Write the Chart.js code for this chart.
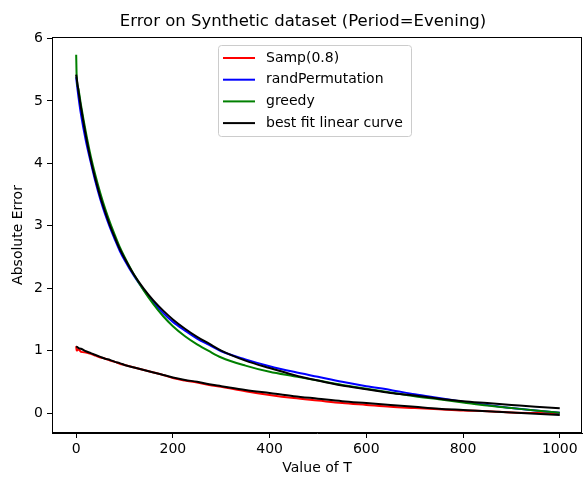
<!DOCTYPE html>
<html>
<head>
<meta charset="utf-8">
<script src="https://cdn.jsdelivr.net/npm/chart.js@4"></script>
<style>
  html, body { margin: 0; padding: 0; background: #fff; }
  #wrap { width: 583px; height: 477px; }
</style>
</head>
<body>
<div id="wrap"><canvas id="c" width="583" height="477"></canvas></div>
<script>
const titleText = "Error on Synthetic dataset (Period=Evening)";
const xTitle = "Value of T";
const yTitle = "Absolute Error";
const xTickValues = [0, 200, 400, 600, 800, 1000];
const yTickValues = [0, 1, 2, 3, 4, 5, 6];

const T = [0,1,5,10,20,30,40,50,60,70,80,90,100,120,140,160,180,200,225,250,275,300,350,400,450,500,550,600,650,700,750,800,850,900,950,1000];

const sampValues = [1.07,1.00,1.02,0.98,0.97,0.95,0.92,0.89,0.87,0.84,0.82,0.79,0.77,0.73,0.69,0.65,0.61,0.56,0.52,0.49,0.45,0.42,0.35,0.29,0.24,0.20,0.16,0.13,0.10,0.08,0.06,0.04,0.03,0.01,0.00,-0.005];
const randPermValues = [5.38,5.30,5.05,4.78,4.36,4.02,3.70,3.42,3.18,2.97,2.78,2.60,2.45,2.19,1.97,1.77,1.60,1.46,1.32,1.19,1.09,0.99,0.86,0.75,0.66,0.58,0.50,0.43,0.37,0.30,0.24,0.18,0.13,0.08,0.04,0.005];
const greedyValues = [5.74,5.40,5.18,4.93,4.50,4.12,3.80,3.52,3.27,3.05,2.85,2.66,2.50,2.21,1.96,1.74,1.55,1.39,1.23,1.10,0.99,0.89,0.76,0.66,0.59,0.52,0.45,0.39,0.33,0.27,0.22,0.17,0.12,0.08,0.04,0.005];
const fitUpperValues = [5.42,5.37,5.14,4.89,4.44,4.06,3.74,3.46,3.22,3.00,2.81,2.63,2.48,2.21,1.99,1.80,1.64,1.50,1.35,1.22,1.11,1.00,0.84,0.72,0.61,0.52,0.44,0.38,0.32,0.28,0.23,0.19,0.16,0.13,0.10,0.075];
const fitLowerValues = [1.06,1.06,1.04,1.03,0.99,0.96,0.93,0.90,0.87,0.85,0.82,0.80,0.77,0.73,0.69,0.65,0.61,0.57,0.53,0.50,0.46,0.43,0.37,0.32,0.27,0.23,0.19,0.16,0.13,0.10,0.07,0.05,0.03,0.01,-0.01,-0.03];

const legendLabels = ["Samp(0.8)", "randPermutation", "greedy", "best fit linear curve"];
const legendColors = ["#ff0000", "#0000ff", "#008000", "#000000"];

const pts = vals => T.map((t, i) => ({ x: t, y: vals[i] }));
const FONT = "'DejaVu Sans', sans-serif";

function ds(label, vals, color, order) {
  return {
    label, data: pts(vals), borderColor: color, backgroundColor: color,
    borderWidth: 2, pointRadius: 0, fill: false, order,
    cubicInterpolationMode: 'monotone'
  };
}

const framePlugin = {
  id: 'frame',
  afterDatasetsDraw(chart) {
    const { ctx, chartArea: a } = chart;
    ctx.save();
    ctx.strokeStyle = '#000';
    ctx.lineWidth = 1;
    ctx.strokeRect(Math.round(a.left) + 0.5, Math.round(a.top) + 0.5, Math.round(a.right - a.left) - 1, Math.round(a.bottom - a.top) - 1);
    ctx.restore();
  }
};

const titlePlugin = {
  id: 'mplTitle',
  afterDraw(chart) {
    const { ctx } = chart;
    ctx.save();
    ctx.font = "16.5px " + FONT;
    ctx.fillStyle = '#000';
    ctx.textAlign = 'center';
    ctx.textBaseline = 'middle';
    ctx.fillText(titleText, 303, 22);
    ctx.restore();
  }
};

const legendPlugin = {
  id: 'mplLegend',
  afterDraw(chart) {
    const { ctx } = chart;
    const x0 = 218, y0 = 45, w = 193, h = 91;
    ctx.save();
    ctx.fillStyle = 'rgba(255,255,255,0.8)';
    ctx.strokeStyle = '#cccccc';
    ctx.lineWidth = 1;
    ctx.beginPath();
    ctx.roundRect(x0 + 0.5, y0 + 0.5, w, h, 3);
    ctx.fill();
    ctx.stroke();
    ctx.font = "14px " + FONT;
    ctx.textBaseline = 'middle';
    ctx.textAlign = 'left';
    legendLabels.forEach((lab, i) => {
      const y = 58 + i * 21.7;
      ctx.strokeStyle = legendColors[i];
      ctx.lineWidth = 2;
      ctx.beginPath();
      ctx.moveTo(223, y);
      ctx.lineTo(255, y);
      ctx.stroke();
      ctx.fillStyle = '#000';
      ctx.fillText(lab, 266, y);
    });
    ctx.restore();
  }
};

new Chart(document.getElementById('c'), {
  type: 'line',
  data: {
    datasets: [
      ds(legendLabels[0], sampValues, legendColors[0], 4),
      ds(legendLabels[1], randPermValues, legendColors[1], 3),
      ds(legendLabels[2], greedyValues, legendColors[2], 2),
      ds(legendLabels[3], fitUpperValues, legendColors[3], 1),
      ds(legendLabels[3], fitLowerValues, legendColors[3], 0)
    ]
  },
  options: {
    responsive: false,
    animation: false,
    devicePixelRatio: 1,
    layout: { padding: { left: 0, right: 1, top: 37, bottom: 0 } },
    plugins: {
      legend: { display: false },
      tooltip: { enabled: false },
      title: { display: false }
    },
    scales: {
      x: {
        type: 'linear', min: -50, max: 1046,
        afterBuildTicks: s => { s.ticks = xTickValues.map(v => ({ value: v })); },
        afterFit: s => { s.height = 44; },
        border: { display: true, color: '#000', width: 1 },
        grid: { display: true, drawOnChartArea: false, drawTicks: true, tickLength: 5, color: '#000' },
        ticks: { color: '#000', font: { family: FONT, size: 14 }, padding: 3, maxRotation: 0, callback: v => String(v) },
        title: { display: true, text: xTitle, color: '#000', font: { family: FONT, size: 14 }, padding: { top: 2, bottom: 0 } }
      },
      y: {
        type: 'linear', min: -0.32, max: 6.024,
        afterBuildTicks: s => { s.ticks = yTickValues.map(v => ({ value: v })); },
        afterFit: s => { s.width = 52; },
        border: { display: true, color: '#000', width: 1 },
        grid: { display: true, drawOnChartArea: false, drawTicks: true, tickLength: 5, color: '#000' },
        ticks: { color: '#000', font: { family: FONT, size: 14 }, padding: 4, callback: v => String(v) },
        title: { display: true, text: yTitle, color: '#000', font: { family: FONT, size: 14 }, padding: { top: 10, bottom: 0 } }
      }
    }
  },
  plugins: [framePlugin, legendPlugin, titlePlugin]
});
</script>
</body>
</html>
